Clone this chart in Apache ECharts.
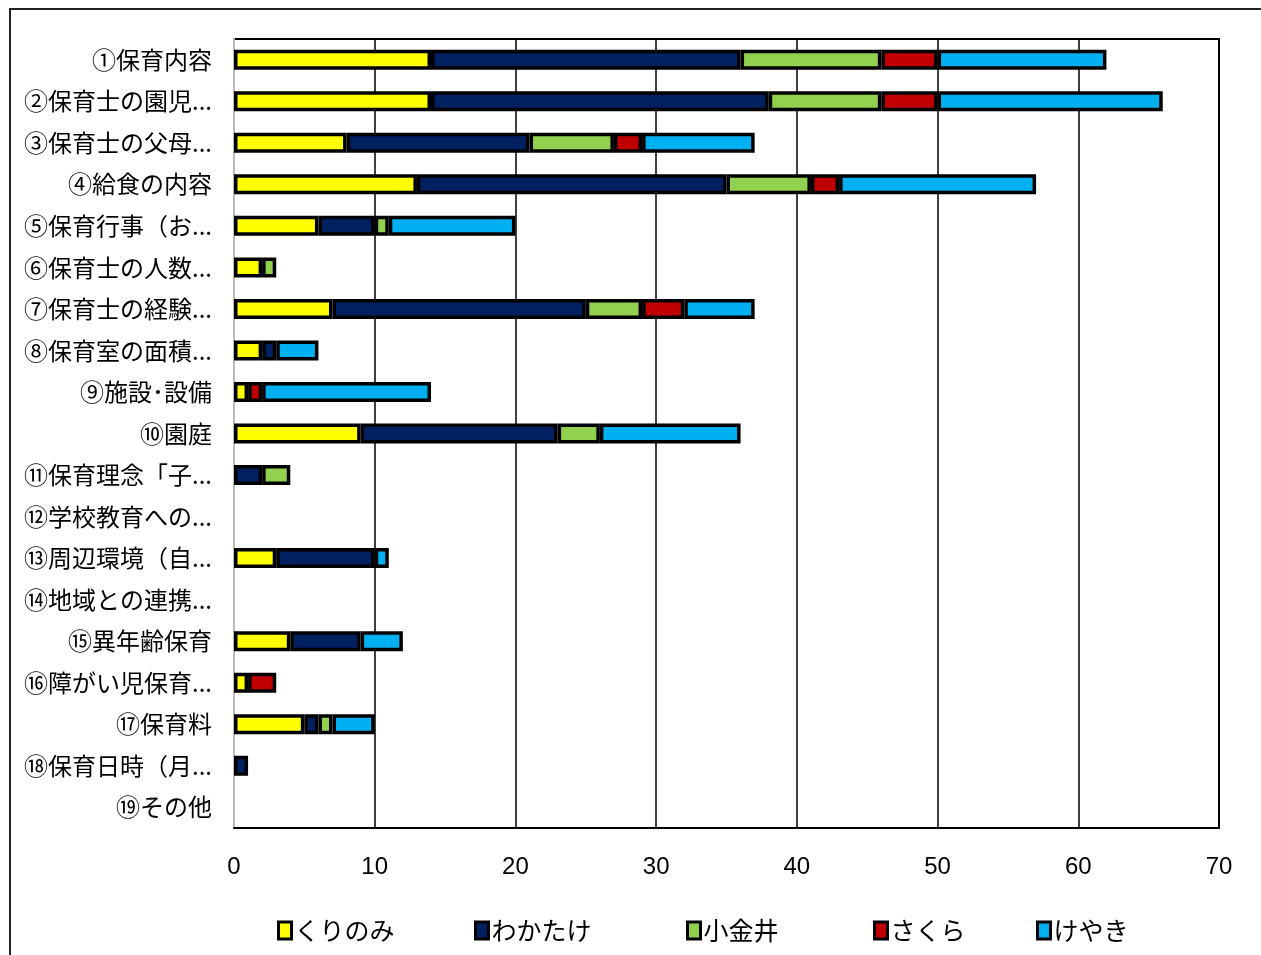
<!DOCTYPE html>
<html>
<head>
<meta charset="utf-8">
<script src="https://cdn.jsdelivr.net/npm/echarts@6/dist/echarts.min.js"></script>
<style>
html,body{margin:0;padding:0;background:#fff;}
#c{width:1261px;height:955px;}
</style>
</head>
<body>
<div id="c"></div>
<script>
const categories = [
  '①保育内容','②保育士の園児...','③保育士の父母...','④給食の内容','⑤保育行事（お...',
  '⑥保育士の人数...','⑦保育士の経験...','⑧保育室の面積...','⑨施設･設備','⑩園庭',
  '⑪保育理念「子...','⑫学校教育への...','⑬周辺環境（自...','⑭地域との連携...','⑮異年齢保育',
  '⑯障がい児保育...','⑰保育料','⑱保育日時（月...','⑲その他'
];
const seriesNames = ['くりのみ','わかたけ','小金井','さくら','けやき'];
const kurinomi  = [14,14,8,13,6,2,7,2,1,9,0,0,3,0,4,1,5,0,0];
const wakatake  = [22,24,13,22,4,0,18,1,0,14,2,0,7,0,5,0,1,1,0];
const koganei   = [10,8,6,6,1,1,4,0,0,3,2,0,0,0,0,0,1,0,0];
const sakura    = [4,4,2,2,0,0,3,0,1,0,0,0,0,0,0,2,0,0,0];
const keyaki    = [12,16,8,14,9,0,5,3,12,10,0,0,1,0,3,0,3,0,0];
const xTicks = [0,10,20,30,40,50,60,70];

const colors = ['#FFFF00','#002060','#92D050','#C00000','#00B0F0'];
const valuesList = [kurinomi, wakatake, koganei, sakura, keyaki];
const legendLeft = [277, 474, 686, 873, 1036];

const chart = echarts.init(document.getElementById('c'));
const jp = '"Noto Sans CJK JP", "Noto Sans", sans-serif';

const series = seriesNames.map((n, i) => ({
  name: n,
  type: 'bar',
  stack: 'total',
  barWidth: 20,
  data: valuesList[i].map(v => v === 0 ? null : v),
  itemStyle: { color: colors[i], borderColor: '#000', borderWidth: 3.5 },
  emphasis: { disabled: true }
}));

const legends = seriesNames.map((n, i) => ({
  data: [n],
  left: legendLeft[i],
  top: 918,
  icon: 'rect',
  itemWidth: 13,
  itemHeight: 17,
  itemGap: 0,
  padding: 0,
  selectedMode: false,
  itemStyle: { borderColor: '#000', borderWidth: 3 },
  textStyle: { fontFamily: jp, fontSize: 25, color: '#000', padding: [0,0,0,-2] }
}));

chart.setOption({
  animation: false,
  color: colors,
  graphic: [{
    type: 'rect',
    shape: { x: 10, y: 9, width: 1400, height: 1100 },
    style: { fill: 'none', stroke: '#222', lineWidth: 2 },
    silent: true
  }],
  legend: legends,
  grid: {
    left: 234, top: 39, right: 42, bottom: 127,
    show: true, borderColor: '#000', borderWidth: 2, backgroundColor: '#fff'
  },
  xAxis: {
    type: 'value',
    min: xTicks[0], max: xTicks[xTicks.length - 1], interval: 10,
    axisLine: { show: true, lineStyle: { color: '#000', width: 2 } },
    axisTick: { show: false },
    splitLine: { show: true, lineStyle: { color: '#000', width: 1.5 } },
    axisLabel: {
      margin: 27, fontSize: 24, color: '#000',
      fontFamily: '"Liberation Sans Narrow", "Liberation Sans", sans-serif'
    }
  },
  yAxis: {
    type: 'category',
    inverse: true,
    data: categories,
    axisLine: { show: true, lineStyle: { color: '#bbb', width: 2 } },
    axisTick: { show: false },
    axisLabel: { margin: 22, fontSize: 24, color: '#000', fontFamily: jp }
  },
  series: series
});
</script>
</body>
</html>
